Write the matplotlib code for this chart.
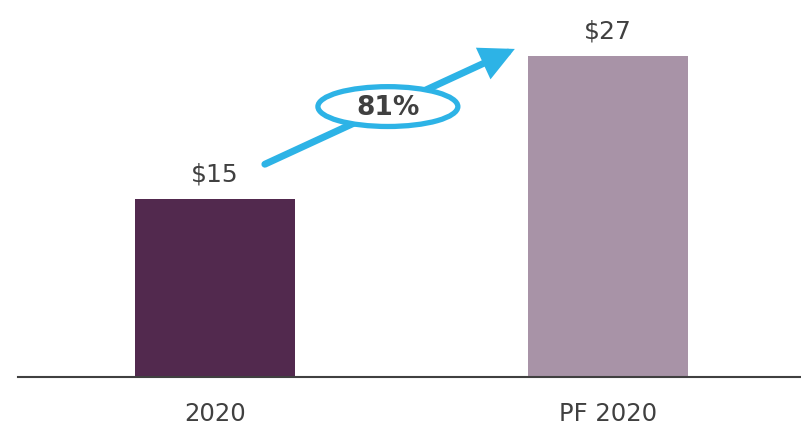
import matplotlib
matplotlib.use("Agg")
import matplotlib.pyplot as plt
from matplotlib.patches import Ellipse

categories = ["2020", "PF 2020"]
values = [15, 27]
value_labels = ["$15", "$27"]
growth_label = "81%"
colors = ["#52294E", "#A893A7"]

plt.rcParams['font.family'] = ['DejaVu Sans']
fig = plt.figure(figsize=(8.01, 4.27), dpi=100)
ax = fig.add_axes([18/801, 49/427, 1 - 18/801, 378/427])

x = list(range(len(categories)))
ax.bar(x, values, width=0.407, color=colors, zorder=2)
ax.set_xlim(-0.501, 1.491)
ax.set_ylim(0, 31.8)

for xi, v, lab in zip(x, values, value_labels):
    ax.text(xi, v + 1.1, lab, ha="center", va="bottom", fontsize=18,
            color="#404040", family="DejaVu Sans")

for s in ["top", "right", "left"]:
    ax.spines[s].set_visible(False)
ax.spines["bottom"].set_color("#404040")
ax.spines["bottom"].set_linewidth(1.5)
ax.set_yticks([])
ax.set_xticks(x)
ax.set_xticklabels(categories, fontsize=17.5, color="#404040")
ax.tick_params(axis="x", length=0, pad=17)

cyan = "#2DB3E6"
ax.annotate("", xy=(0.763, 27.6), xytext=(0.127, 17.9),
            arrowprops=dict(arrowstyle="-|>,head_length=1.7,head_width=0.85",
                            color=cyan, lw=5, shrinkA=0, shrinkB=0,
                            joinstyle="miter"), zorder=3)
ell = Ellipse((0.44, 22.75), width=0.356, height=3.35, facecolor="white",
              edgecolor=cyan, lw=3.8, zorder=4)
ax.add_patch(ell)
ax.text(0.44, 22.75, growth_label, ha="center", va="center", fontsize=19,
        fontweight="bold", color="#404040", family="DejaVu Sans", zorder=5)

fig.savefig("out.png", dpi=100)
